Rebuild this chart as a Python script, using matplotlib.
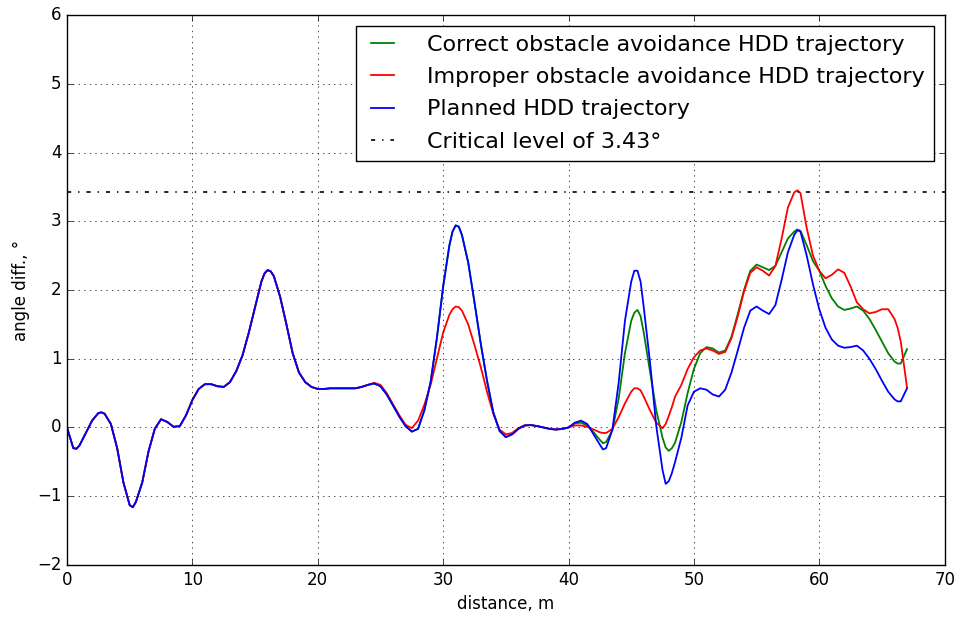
import numpy as np
import matplotlib
matplotlib.use("Agg")
import matplotlib.pyplot as plt

plt.style.use('classic')

distance = [
    0.0, 0.5, 0.75, 1.0, 1.5, 2.0, 2.5, 2.75, 3.0, 3.5,
    4.0, 4.5, 5.0, 5.25, 5.5, 6.0, 6.5, 7.0, 7.5,
    8.0, 8.5, 9.0, 9.5, 10.0, 10.5, 11.0, 11.5, 12.0, 12.5,
    13.0, 13.5, 14.0, 14.5, 15.0, 15.5, 15.75, 16.0, 16.25, 16.5, 17.0, 17.5,
    18.0, 18.5, 19.0, 19.5, 20.0, 20.5, 21.0, 21.5, 22.0, 22.5,
    23.0, 23.5, 24.0, 24.5, 25.0, 25.5, 26.0, 26.5, 27.0, 27.5,
    28.0, 28.5, 29.0, 29.5, 30.0, 30.5, 30.75, 31.0, 31.25, 31.5, 32.0,
    32.5, 33.0, 33.5, 34.0, 34.5, 35.0, 35.5, 36.0, 36.5,
    37.0, 37.5, 38.0, 38.5, 39.0, 39.5, 40.0, 40.5,
    41.0, 41.5, 42.0, 42.5, 42.75, 43.0, 43.5, 44.0, 44.5,
    45.0, 45.25, 45.5, 45.75, 46.0, 46.5, 47.0, 47.5, 47.75, 48.0, 48.25, 48.5,
    49.0, 49.5, 50.0, 50.5, 51.0, 51.5, 52.0, 52.5, 53.0, 53.5,
    54.0, 54.5, 55.0, 55.5, 56.0, 56.5, 57.0, 57.5, 58.0, 58.25, 58.5,
    59.0, 59.5, 60.0, 60.5, 61.0, 61.5, 62.0, 62.5, 63.0, 63.5,
    64.0, 64.5, 65.0, 65.5, 66.0, 66.25, 66.5, 67.0,
]

planned = [
    0.00, -0.30, -0.31, -0.26, -0.08, 0.10, 0.21, 0.22, 0.20, 0.05,
    -0.30, -0.80, -1.13, -1.16, -1.08, -0.80, -0.35, -0.02, 0.12,
    0.08, 0.01, 0.02, 0.18, 0.40, 0.56, 0.63, 0.63, 0.60, 0.59,
    0.66, 0.82, 1.05, 1.38, 1.75, 2.12, 2.24, 2.29, 2.27, 2.20, 1.90, 1.50,
    1.08, 0.80, 0.66, 0.59, 0.56, 0.56, 0.57, 0.57, 0.57, 0.57,
    0.57, 0.59, 0.62, 0.64, 0.60, 0.48, 0.32, 0.16, 0.02, -0.06,
    -0.02, 0.25, 0.66, 1.30, 2.05, 2.65, 2.85, 2.94, 2.92, 2.80, 2.40,
    1.82, 1.22, 0.68, 0.22, -0.05, -0.14, -0.10, -0.02, 0.03,
    0.035, 0.02, 0.00, -0.02, -0.03, -0.02, 0.00, 0.07,
    0.10, 0.05, -0.10, -0.25, -0.32, -0.30, -0.03, 0.65, 1.55,
    2.12, 2.28, 2.28, 2.12, 1.75, 0.95, 0.02, -0.62, -0.82, -0.78, -0.66, -0.50,
    -0.15, 0.32, 0.52, 0.57, 0.55, 0.48, 0.45, 0.55, 0.80, 1.12,
    1.45, 1.70, 1.76, 1.70, 1.65, 1.78, 2.15, 2.55, 2.80, 2.87, 2.85,
    2.50, 2.08, 1.72, 1.45, 1.28, 1.19, 1.16, 1.17, 1.19, 1.12,
    1.00, 0.85, 0.68, 0.52, 0.41, 0.38, 0.38, 0.57,
]

improper = [
    0.00, -0.30, -0.31, -0.26, -0.08, 0.10, 0.21, 0.22, 0.20, 0.05,
    -0.30, -0.80, -1.13, -1.16, -1.08, -0.80, -0.35, -0.02, 0.12,
    0.08, 0.01, 0.02, 0.18, 0.40, 0.56, 0.63, 0.63, 0.60, 0.59,
    0.66, 0.82, 1.05, 1.38, 1.75, 2.12, 2.24, 2.29, 2.27, 2.20, 1.90, 1.50,
    1.08, 0.80, 0.66, 0.59, 0.56, 0.56, 0.57, 0.57, 0.57, 0.57,
    0.57, 0.59, 0.62, 0.65, 0.62, 0.50, 0.34, 0.18, 0.04, -0.01,
    0.10, 0.33, 0.62, 1.00, 1.38, 1.64, 1.72, 1.76, 1.75, 1.70, 1.50,
    1.20, 0.88, 0.52, 0.20, -0.03, -0.10, -0.08, -0.01, 0.03,
    0.035, 0.02, 0.00, -0.02, -0.03, -0.02, 0.00, 0.03,
    0.03, 0.01, -0.03, -0.07, -0.08, -0.08, -0.02, 0.15, 0.35,
    0.52, 0.57, 0.57, 0.54, 0.45, 0.25, 0.07, -0.01, 0.05, 0.17, 0.30, 0.45,
    0.62, 0.85, 1.02, 1.12, 1.15, 1.12, 1.07, 1.10, 1.30, 1.62,
    1.98, 2.25, 2.33, 2.28, 2.21, 2.35, 2.75, 3.20, 3.42, 3.45, 3.41,
    2.90, 2.50, 2.28, 2.17, 2.22, 2.30, 2.25, 2.05, 1.82, 1.72,
    1.66, 1.68, 1.72, 1.72, 1.58, 1.45, 1.25, 0.58,
]

correct = [
    0.00, -0.30, -0.31, -0.26, -0.08, 0.10, 0.21, 0.22, 0.20, 0.05,
    -0.30, -0.80, -1.13, -1.16, -1.08, -0.80, -0.35, -0.02, 0.12,
    0.08, 0.01, 0.02, 0.18, 0.40, 0.56, 0.63, 0.63, 0.60, 0.59,
    0.66, 0.82, 1.05, 1.38, 1.75, 2.12, 2.24, 2.29, 2.27, 2.20, 1.90, 1.50,
    1.08, 0.80, 0.66, 0.59, 0.56, 0.56, 0.57, 0.57, 0.57, 0.57,
    0.57, 0.59, 0.62, 0.64, 0.60, 0.48, 0.32, 0.16, 0.02, -0.06,
    -0.02, 0.25, 0.66, 1.30, 2.05, 2.65, 2.85, 2.94, 2.92, 2.80, 2.40,
    1.82, 1.22, 0.68, 0.22, -0.05, -0.14, -0.10, -0.02, 0.03,
    0.035, 0.02, 0.00, -0.02, -0.03, -0.02, 0.00, 0.06,
    0.07, 0.03, -0.07, -0.18, -0.23, -0.21, -0.04, 0.42, 1.08,
    1.55, 1.67, 1.71, 1.62, 1.38, 0.82, 0.25, -0.15, -0.29, -0.34, -0.30, -0.22,
    0.08, 0.50, 0.85, 1.08, 1.17, 1.15, 1.09, 1.12, 1.32, 1.65,
    2.00, 2.28, 2.37, 2.33, 2.29, 2.35, 2.55, 2.75, 2.85, 2.88, 2.86,
    2.65, 2.42, 2.28, 2.06, 1.88, 1.76, 1.71, 1.73, 1.76, 1.70,
    1.58, 1.42, 1.25, 1.08, 0.96, 0.93, 0.93, 1.14,
]

critical_level = 3.43

fig = plt.figure(figsize=(9.6, 6.18), dpi=100)
ax = fig.add_axes([0.0698, 0.0858, 0.984 - 0.0698, 0.9757 - 0.0858])

ax.plot(distance, correct, color='g', lw=1.3,
        label='Correct obstacle avoidance HDD trajectory')
ax.plot(distance, improper, color='r', lw=1.3,
        label='Improper obstacle avoidance HDD trajectory')
ax.plot(distance, planned, color='b', lw=1.3,
        label='Planned HDD trajectory')
ax.axhline(critical_level, color='k', ls='-.', lw=1.2,
           label='Critical level of 3.43°')

ax.set_xlim(0, 70)
ax.set_ylim(-2, 6)
ax.grid(True)
ax.tick_params(labelsize=12)
ax.set_xlabel('distance, m', fontsize=12)
ax.set_ylabel('angle diff., °', fontsize=12)
ax.legend(loc='upper right', fontsize=16, labelspacing=0.55,
          handlelength=1.6, handletextpad=1.2)

fig.savefig('out.png', dpi=100)
